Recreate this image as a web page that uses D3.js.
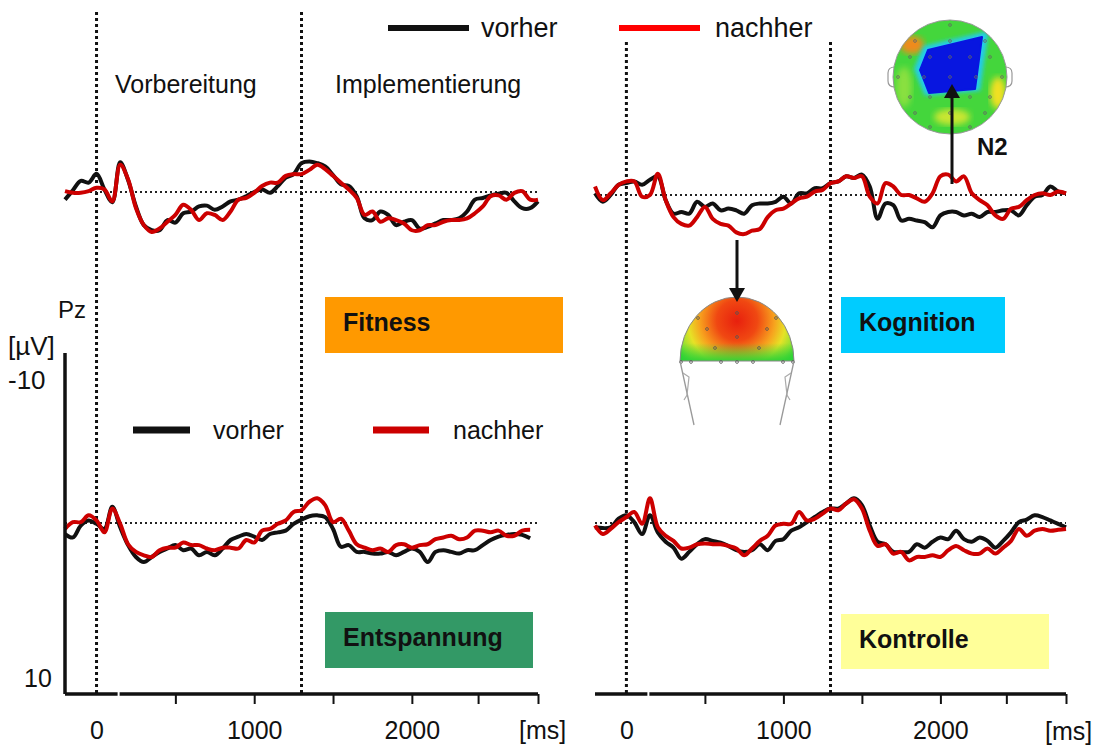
<!DOCTYPE html>
<html>
<head>
<meta charset="utf-8">
<script src="https://cdn.jsdelivr.net/npm/d3@7"></script>
<style>
  body { margin: 0; background: #fff; }
  svg { display: block; }
  text { font-family: "Liberation Sans", Arial, sans-serif; fill: #111; }
</style>
</head>
<body>
<div id="chart"></div>
<script>
// sample times (ms), one value every 50 ms
const times = d3.range(-200, 2801, 50);

// ERP amplitude at Pz in µV (negative is drawn upward)
const fitnessVorher = [0.45,-0.1,-0.65,-0.55,-1.07,-0.15,0.6,-1.75,-0.7,0.85,1.95,2.25,2.25,1.65,1.8,1.25,1.15,0.85,0.8,1.05,0.85,0.55,0.45,0.25,0,-0.15,0.05,-0.35,-0.85,-1.05,-1.7,-1.8,-1.7,-1.5,-1.0,-0.45,-0.35,0.25,1.55,1.65,1.15,1.35,1.95,1.75,1.65,2.15,2.05,1.85,1.65,1.65,1.55,1.15,0.45,0.35,0.2,0.1,0.05,0.55,0.95,0.95,0.55];
const fitnessNachher = [-0.05,0.05,0.05,-0.05,-0.25,-0.15,0.55,-1.6,-0.75,0.95,1.95,2.35,2.15,1.75,1.35,0.75,1.05,1.65,1.25,1.35,1.65,1.15,0.45,0.35,0.05,-0.35,-0.55,-0.55,-0.95,-1.05,-1.05,-1.3,-1.6,-1.35,-0.95,-0.55,-0.15,0.35,1.35,1.15,1.75,1.55,1.65,1.85,2.25,2.25,1.95,1.95,1.75,1.65,1.65,1.55,1.25,0.85,0.25,0.2,0.45,0.05,-0.05,0.45,0.45];
const kognitionVorher = [-0.1,0.4,0,-0.6,-0.7,-0.8,-0.6,-0.9,-1.1,0.3,1.1,1.0,1.1,0.4,0.7,0.5,0.9,0.8,0.9,1.1,0.6,0.5,0.5,0.4,0.1,0.5,-0.1,-0.1,-0.4,-0.4,-0.7,-0.8,-1.1,-1.0,-1.2,-0.5,1.4,0.5,0.6,1.5,1.4,1.5,1.6,1.9,1.2,1.0,1.0,1.2,1.1,1.3,1.0,1.0,0.9,0.9,1.2,0.6,0.1,0,-0.5,-0.2,-0.1];
const kognitionNachher = [-0.5,0.3,-0.1,-0.6,-0.8,-0.8,0.1,0,-1.25,0.3,1.3,1.7,1.8,1.3,0.7,1.4,1.7,1.8,2.2,2.3,2.1,2.0,1.3,0.9,0.8,0.5,0.2,0.1,-0.2,-0.3,-0.7,-0.8,-1.1,-1.0,-1.1,0.1,0.5,-0.7,-0.5,0,0,0.2,0.4,-0.1,-1.1,-1.2,-0.8,-1.1,-0.1,0.3,0.6,1.2,1.4,0.8,0.7,0.3,0,-0.1,0,-0.2,-0.1];
const entspannungVorher = [0.65,0.85,0.15,-0.15,0.05,0.35,-0.95,0.25,1.3,2.0,2.3,2.0,1.7,1.5,1.3,1.6,1.5,1.9,1.7,1.9,1.5,1.0,0.8,0.65,0.8,1.0,0.65,0.55,0.45,0.05,-0.2,-0.4,-0.45,-0.35,0.35,1.4,1.3,1.7,1.7,1.8,1.8,1.7,1.9,1.7,1.5,1.7,2.3,1.7,1.6,1.7,1.8,1.6,1.6,1.3,1.0,0.8,0.7,0.65,0.7,0.9];
const entspannungNachher = [0.35,-0.05,-0.05,-0.45,-0.15,0.55,-0.85,0.05,1.25,1.7,1.9,2.0,1.6,1.45,1.45,1.15,1.3,1.3,1.5,1.6,1.45,1.45,1.5,1.0,1.15,0.45,0.35,0.05,-0.15,-0.65,-0.75,-1.25,-1.45,-1.05,-0.05,-0.25,0.45,1.25,1.45,1.6,1.5,1.7,1.3,1.25,1.45,1.3,1.25,0.95,0.85,0.75,0.95,0.85,0.45,0.45,0.55,0.45,0.75,0.75,0.45,0.4];
const kontrolleVorher = [0.25,0.3,0.25,-0.25,-0.45,-0.05,0.65,-0.45,0.55,1.1,1.45,2.1,1.7,1.25,0.95,1.05,1.15,1.35,1.6,1.7,1.6,1.25,1.6,1.05,0.95,0.45,0.25,-0.05,-0.35,-0.65,-0.85,-0.85,-1.15,-1.45,-1.05,0.15,1.1,1.25,1.7,1.7,1.7,1.25,1.45,1.1,0.85,0.95,0.45,0.95,1.1,0.85,1.05,1.45,1.05,0.55,-0.05,-0.2,-0.45,-0.35,-0.15,0.05,0.25];
const kontrolleNachher = [0.15,0.65,0.35,-0.05,-0.35,-0.65,0.05,-1.45,0.25,0.75,1.05,1.5,1.45,1.25,1.2,1.25,1.25,1.35,1.5,1.9,1.5,1.05,0.75,0.15,0.05,0.05,-0.65,-0.15,-0.25,-0.55,-0.85,-0.75,-1.15,-1.4,-0.85,0.45,1.35,1.25,1.8,1.7,2.2,2.0,2.0,1.9,2.0,1.6,1.35,1.6,1.8,1.8,1.5,1.8,1.45,1.05,0.35,0.75,0.45,0.35,0.45,0.4,0.35];

const groupNames = ["Fitness", "Kognition", "Entspannung", "Kontrolle"];
const groupColors = ["#ff9900", "#00ccff", "#339966", "#ffff99"];
const seriesNames = ["vorher", "nachher"];
const phaseNames = ["Vorbereitung", "Implementierung"];
const events = [0, 1300];
const xTicks = [500, 1000, 1500, 2000, 2420, 2800];
const xLabels = [0, 1000, 2000];
const yLimits = [-10, 10];

const width = 1098, height = 745;
const svg = d3.select("#chart").append("svg")
  .attr("width", width).attr("height", height)
  .attr("viewBox", "0 0 " + width + " " + height);

const xLeft = d3.scaleLinear().domain([-200, 2800]).range([65, 538]);
const xRight = d3.scaleLinear().domain([-200, 2800]).range([595, 1066]);
const yFor = base => d3.scaleLinear().domain(yLimits).range([base - 170, base + 170]);

const panels = [
  { name: groupNames[0], color: groupColors[0], pre: fitnessVorher, post: fitnessNachher, x: xLeft, y: yFor(192), box: [325, 297, 238, 56] },
  { name: groupNames[1], color: groupColors[1], pre: kognitionVorher, post: kognitionNachher, x: xRight, y: yFor(195), box: [841, 297, 164, 56] },
  { name: groupNames[2], color: groupColors[2], pre: entspannungVorher, post: entspannungNachher, x: xLeft, y: yFor(523), box: [325, 612, 208, 56] },
  { name: groupNames[3], color: groupColors[3], pre: kontrolleVorher, post: kontrolleNachher, x: xRight, y: yFor(523), box: [841, 614, 208, 55] }
];

const axisY = 694;

// event markers (dotted verticals)
[[xLeft, 12], [xRight, 42]].forEach(([x, top]) => {
  svg.selectAll(null).data(events).enter().append("line")
    .attr("x1", d => x(d)).attr("x2", d => x(d))
    .attr("y1", top).attr("y2", axisY)
    .attr("stroke", "#111").attr("stroke-width", 3)
    .attr("stroke-dasharray", "3,3");
});

// phase labels
svg.selectAll(null).data(phaseNames).enter().append("text")
  .attr("x", (d, i) => i === 0 ? 115 : 335).attr("y", 93)
  .attr("font-size", 25).text(d => d);

// group boxes
panels.forEach(p => {
  svg.append("rect").attr("x", p.box[0]).attr("y", p.box[1])
    .attr("width", p.box[2]).attr("height", p.box[3]).attr("fill", p.color);
  svg.append("text").attr("x", p.box[0] + 18).attr("y", p.box[1] + 34)
    .attr("font-size", 25).attr("font-weight", "bold").text(p.name);
});

// baselines and curves
panels.forEach(p => {
  svg.append("line")
    .attr("x1", p.x(-200)).attr("x2", p.x(2800))
    .attr("y1", p.y(0)).attr("y2", p.y(0))
    .attr("stroke", "#222").attr("stroke-width", 2)
    .attr("stroke-dasharray", "2,3");
  const line = d3.line()
    .x((d, i) => p.x(times[i]))
    .y(d => p.y(d))
    .curve(d3.curveCatmullRom.alpha(0.5));
  svg.append("path").datum(p.pre).attr("d", line)
    .attr("fill", "none").attr("stroke", "#111").attr("stroke-width", 4)
    .attr("stroke-linejoin", "round");
  svg.append("path").datum(p.post).attr("d", line)
    .attr("fill", "none").attr("stroke", "#cc0000").attr("stroke-width", 4)
    .attr("stroke-linejoin", "round");
});

// x axes
[xLeft, xRight].forEach((x, k) => {
  const g = svg.append("g").attr("transform", "translate(0," + axisY + ")");
  g.call(d3.axisBottom(x).tickValues(xTicks).tickSize(10).tickFormat(""));
  g.select(".domain").remove();
  g.selectAll(".tick line").attr("stroke", "#111").attr("stroke-width", 2);
  g.append("line").attr("x1", x(-200)).attr("x2", x(2800))
    .attr("stroke", "#111").attr("stroke-width", 3.5);
  g.append("line").attr("x1", x(140)).attr("x2", x(140))
    .attr("y1", -3).attr("y2", 3)
    .attr("stroke", "#fff").attr("stroke-width", 2);
  const lab = svg.append("g").attr("transform", "translate(0," + axisY + ")");
  lab.call(d3.axisBottom(x).tickValues(xLabels).tickSize(0).tickPadding(27).tickFormat(d3.format("d")));
  lab.select(".domain").remove();
  lab.selectAll(".tick text").attr("font-size", 25)
    .attr("font-family", "Liberation Sans, Arial, sans-serif").attr("fill", "#111");
  svg.append("text").attr("x", k === 0 ? 519 : 1045).attr("y", k === 0 ? 739 : 740)
    .attr("font-size", 25).text("[ms]");
});

// y scale bar
const yBar = panels[2].y;
svg.append("line").attr("x1", 65).attr("x2", 65)
  .attr("y1", yBar(yLimits[0])).attr("y2", axisY)
  .attr("stroke", "#111").attr("stroke-width", 3.5);
svg.append("text").attr("x", 58).attr("y", 318).attr("font-size", 24).text("Pz");
svg.append("text").attr("x", 8).attr("y", 355).attr("font-size", 26).text("[µV]");
svg.append("text").attr("x", 8).attr("y", yBar(yLimits[0]) + 36).attr("font-size", 26).text(yLimits[0]);
svg.append("text").attr("x", 24).attr("y", yBar(yLimits[1]) - 6).attr("font-size", 25).text(yLimits[1]);

// legends
const legends = [
  { lx: [388, 469, 619, 700], tx: [481, 715], y: 28, fs: 27, sw: 6, red: "#ff0000" },
  { lx: [133, 190, 373, 429], tx: [213, 453], y: 430, fs: 25, sw: 7, red: "#cc0000" }
];
legends.forEach(L => {
  seriesNames.forEach((s, i) => {
    svg.append("line").attr("x1", L.lx[i * 2]).attr("x2", L.lx[i * 2 + 1])
      .attr("y1", L.y).attr("y2", L.y)
      .attr("stroke", i === 0 ? "#111" : L.red).attr("stroke-width", L.sw);
    svg.append("text").attr("x", L.tx[i]).attr("y", L.y + 9)
      .attr("font-size", L.fs).text(s);
  });
});

// topographic maps
const defs = svg.append("defs");
defs.append("filter").attr("id", "blur2").append("feGaussianBlur").attr("stdDeviation", 2);
defs.append("filter").attr("id", "blur3").append("feGaussianBlur").attr("stdDeviation", 3);

// N2 map (top view)
const cx = 950, cy = 77, r = 57;
defs.append("clipPath").attr("id", "headClip").append("circle")
  .attr("cx", cx).attr("cy", cy).attr("r", r);
[-1, 1].forEach(s => {
  svg.append("path")
    .attr("d", `M${cx + s * (r - 2)},${cy - 10} q${s * 7},0 ${s * 7},6 v8 q0,6 ${-s * 7},6`)
    .attr("fill", "#fff").attr("stroke", "#999").attr("stroke-width", 1.2);
});
const topo = svg.append("g").attr("clip-path", "url(#headClip)");
topo.append("circle").attr("cx", cx).attr("cy", cy).attr("r", r).attr("fill", "#44d63c");
topo.append("ellipse").attr("cx", cx - 38).attr("cy", cy - 32).attr("rx", 12).attr("ry", 9)
  .attr("fill", "#f08a1c").attr("filter", "url(#blur3)");
topo.append("ellipse").attr("cx", cx + 48).attr("cy", cy + 16).attr("rx", 8).attr("ry", 16)
  .attr("fill", "#f2e024").attr("filter", "url(#blur3)");
topo.append("ellipse").attr("cx", cx + 2).attr("cy", cy + 40).attr("rx", 18).attr("ry", 8)
  .attr("fill", "#c9e630").attr("filter", "url(#blur3)");
topo.append("ellipse").attr("cx", cx - 46).attr("cy", cy + 10).attr("rx", 8).attr("ry", 20)
  .attr("fill", "#8ae040").attr("filter", "url(#blur3)");
const diamond = [[-22, -27], [32, -40], [25, 12], [-21, 16], [-30, -7]];
topo.append("polygon")
  .attr("points", diamond.map(p => [cx + p[0] * 1.2, cy + p[1] * 1.15].join(",")).join(" "))
  .attr("fill", "#22ccee").attr("filter", "url(#blur2)");
topo.append("polygon")
  .attr("points", diamond.map(p => [cx + p[0], cy + p[1]].join(",")).join(" "))
  .attr("fill", "#0816e0").attr("stroke", "#0816e0").attr("stroke-width", 2)
  .attr("stroke-linejoin", "round");
const elecTop = [[0, -52], [-35, -36], [0, -36], [35, -36], [-40, -20], [-20, -20], [0, -20], [20, -20], [40, -20],
  [-52, 0], [-26, 0], [0, 0], [26, 0], [52, 0], [-40, 20], [-20, 20], [0, 20], [20, 20], [40, 20],
  [-35, 36], [0, 36], [35, 36], [-20, 50], [20, 50]];
topo.selectAll(null).data(elecTop).enter().append("circle")
  .attr("cx", d => cx + d[0]).attr("cy", d => cy + d[1]).attr("r", 1.4)
  .attr("fill", "none").attr("stroke", "#666").attr("stroke-width", 0.8);
svg.append("circle").attr("cx", cx).attr("cy", cy).attr("r", r)
  .attr("fill", "none").attr("stroke", "#999").attr("stroke-width", 1);

// back view map
const bx = 737, by = 361, brx = 57, bry = 64;
const grad = defs.append("radialGradient").attr("id", "backGrad")
  .attr("gradientUnits", "userSpaceOnUse")
  .attr("cx", bx).attr("cy", by - 42).attr("r", 68).attr("fx", bx).attr("fy", by - 40);
[[0, "#e8200e"], [0.3, "#f04812"], [0.55, "#f7a21e"], [0.72, "#e6e226"], [0.88, "#8fe031"], [1, "#2cd236"]]
  .forEach(s => grad.append("stop").attr("offset", s[0]).attr("stop-color", s[1]));
const lin = defs.append("linearGradient").attr("id", "backLin").attr("x1", 0).attr("y1", 0).attr("x2", 0).attr("y2", 1);
[[0, "#2cd236", 0], [0.72, "#2cd236", 0], [1, "#2cd236", 0.95]]
  .forEach(s => lin.append("stop").attr("offset", s[0]).attr("stop-color", s[1]).attr("stop-opacity", s[2]));
const halfPath = `M${bx - brx},${by} A${brx},${bry} 0 0 1 ${bx + brx},${by} Z`;
svg.append("path").attr("d", halfPath).attr("fill", "url(#backGrad)");
svg.append("path").attr("d", halfPath).attr("fill", "url(#backLin)");
svg.append("path").attr("d", halfPath).attr("fill", "none").attr("stroke", "#888").attr("stroke-width", 1);
const elecBack = [[0, -48], [-39, -43], [39, -43], [-30, -32], [30, -32], [0, -24], [-22, -13], [22, -13],
  [-56, 1], [-46, 1], [-16, 1], [0, 1], [16, 1], [46, 1], [56, 1]];
svg.selectAll(null).data(elecBack).enter().append("circle")
  .attr("cx", d => bx + d[0]).attr("cy", d => by + d[1]).attr("r", 1.4)
  .attr("fill", "none").attr("stroke", "#555").attr("stroke-width", 0.8);
[-1, 1].forEach(s => {
  svg.append("path")
    .attr("d", `M${bx + s * brx},${by} L${bx + s * 43},${by + 64}`)
    .attr("fill", "none").attr("stroke", "#999").attr("stroke-width", 1.3);
  svg.append("path")
    .attr("d", `M${bx + s * 54},${by + 12} l${s * -6},${4} l${s * 2},${18} l${s * 3},${5}`)
    .attr("fill", "none").attr("stroke", "#aaa").attr("stroke-width", 1.2);
});

// arrows
function arrow(x, y1, y2) {
  const dir = Math.sign(y2 - y1);
  svg.append("line").attr("x1", x).attr("x2", x).attr("y1", y1).attr("y2", y2 - dir * 12)
    .attr("stroke", "#111").attr("stroke-width", 3);
  svg.append("polygon")
    .attr("points", `${x - 8},${y2 - dir * 14} ${x + 8},${y2 - dir * 14} ${x},${y2}`)
    .attr("fill", "#111");
}
arrow(952, 184, 84);
arrow(737, 240, 302);
svg.append("text").attr("x", 977).attr("y", 155).attr("font-size", 24)
  .attr("font-weight", "bold").text("N2");
</script>
</body>
</html>
